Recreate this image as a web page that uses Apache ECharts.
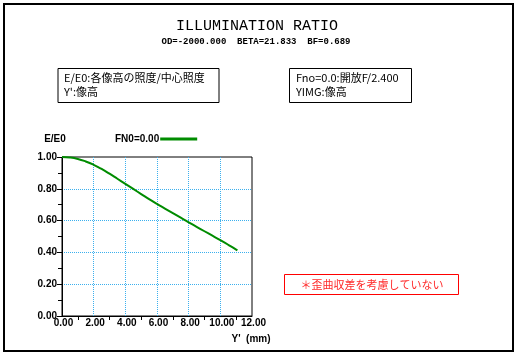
<!DOCTYPE html>
<html>
<head>
<meta charset="utf-8">
<script src="https://cdn.jsdelivr.net/npm/echarts@6/dist/echarts.min.js"></script>
<style>
html,body{margin:0;padding:0;background:#fff;}
#c{width:521px;height:357px;}
</style>
</head>
<body>
<div id="c"></div>
<script>
// ---- data ----
const yImg = [0, 0.5, 1, 1.5, 2, 2.5, 3, 3.5, 4, 4.5, 5, 5.5, 6, 6.5, 7, 7.5, 8, 8.5, 9, 9.5, 10, 10.5, 11, 11.07];
const ratio = [1.0, 0.997, 0.988, 0.972, 0.951, 0.925, 0.895, 0.863, 0.831, 0.799, 0.767, 0.735, 0.705, 0.676, 0.647, 0.618, 0.589, 0.561, 0.533, 0.505, 0.477, 0.448, 0.418, 0.412];
const seriesName = 'FN0=0.00';
const titleText = 'ILLUMINATION RATIO';
const subText = 'OD=-2000.000  BETA=21.833  BF=0.689';
const note1 = ['E/E0:各像高の照度/中心照度', "Y':像高"];
const note2 = ['Fno=0.0:開放F/2.400', 'YIMG:像高'];
const warnText = '＊歪曲収差を考慮していない';

const chart = echarts.init(document.getElementById('c'), null, {renderer: 'canvas'});
const labelFont = {fontFamily: 'Liberation Sans', fontWeight: 'bold', fontSize: 10, color: '#000'};
const gridBlue = '#3cb0ee';
const noteFont = '11px "Noto Sans CJK JP"';

const option = {
  backgroundColor: '#fff',
  animation: false,
  grid: {left: 62, top: 157, width: 190, height: 159, show: true, borderColor: '#000', borderWidth: 1, backgroundColor: 'transparent', containLabel: false},
  legend: {
    left: 110, top: 129, align: 'right', icon: 'rect', itemWidth: 37, itemHeight: 3, itemGap: 0,
    textStyle: {fontFamily: 'Liberation Sans', fontWeight: 'bold', fontSize: 10, color: '#000', padding: [0, -4, 0, 0]},
    data: [seriesName]
  },
  xAxis: {
    type: 'value', min: 0, max: 12, interval: 2,
    axisLine: {show: true, lineStyle: {color: '#000', width: 1}},
    axisTick: {show: false},
    minorTick: {show: true, splitNumber: 2, length: 4, lineStyle: {color: '#000'}},
    axisLabel: Object.assign({margin: 2, padding: [0, 0, 0, 3], formatter: v => v.toFixed(2)}, labelFont),
    splitLine: {show: true, showMinLine: false, showMaxLine: false, lineStyle: {color: gridBlue, type: 'dotted', width: 1}}
  },
  yAxis: {
    type: 'value', min: 0, max: 1, interval: 0.2,
    axisLine: {show: true, lineStyle: {color: '#000', width: 1}},
    axisTick: {show: true, inside: false, length: 5, lineStyle: {color: '#000'}},
    minorTick: {show: true, splitNumber: 2, length: 4, lineStyle: {color: '#000'}},
    axisLabel: Object.assign({margin: 5, padding: [0, 0, 6, 0], formatter: v => v.toFixed(2)}, labelFont),
    splitLine: {show: true, showMinLine: false, showMaxLine: false, lineStyle: {color: gridBlue, type: 'dotted', width: 1}}
  },
  series: [{
    name: seriesName, type: 'line', showSymbol: false, smooth: true,
    data: yImg.map((x, i) => [x, ratio[i]]),
    lineStyle: {color: '#008c00', width: 2},
    itemStyle: {color: '#008c00'}
  }],
  graphic: [
    {type: 'rect', shape: {x: 4, y: 4, width: 509, height: 347}, style: {fill: null, stroke: '#000', lineWidth: 2}, silent: true},
    {type: 'text', x: 257, y: 26, style: {text: titleText, font: '15px "Liberation Mono"', fill: '#000', align: 'center', verticalAlign: 'middle'}},
    {type: 'text', x: 256, y: 42, style: {text: subText, font: 'bold 9px "Liberation Mono"', fill: '#000', align: 'center', verticalAlign: 'middle'}},
    {type: 'rect', shape: {x: 58, y: 68.5, width: 161, height: 34}, style: {fill: null, stroke: '#000', lineWidth: 1}},
    {type: 'text', x: 64, y: 78, style: {text: note1[0], font: noteFont, fill: '#000', verticalAlign: 'middle'}},
    {type: 'text', x: 64, y: 92, style: {text: note1[1], font: noteFont, fill: '#000', verticalAlign: 'middle'}},
    {type: 'rect', shape: {x: 289.5, y: 68.5, width: 122, height: 34}, style: {fill: null, stroke: '#000', lineWidth: 1}},
    {type: 'text', x: 296, y: 78, style: {text: note2[0], font: noteFont, fill: '#000', verticalAlign: 'middle'}},
    {type: 'text', x: 296, y: 92, style: {text: note2[1], font: noteFont, fill: '#000', verticalAlign: 'middle'}},
    {type: 'rect', shape: {x: 284.5, y: 274.5, width: 174, height: 20}, style: {fill: null, stroke: '#ff0000', lineWidth: 1}},
    {type: 'text', x: 372, y: 285, style: {text: warnText, font: '11px "Noto Sans CJK JP"', fill: '#ff2a2a', align: 'center', verticalAlign: 'middle'}},
    {type: 'text', x: 55, y: 139, style: {text: 'E/E0', font: 'bold 10px "Liberation Sans"', fill: '#000', align: 'center', verticalAlign: 'middle'}},
    {type: 'text', x: 251, y: 339, style: {text: "Y'  (mm)", font: 'bold 10px "Liberation Sans"', fill: '#000', align: 'center', verticalAlign: 'middle'}}
  ]
};
chart.setOption(option);
</script>
</body>
</html>
